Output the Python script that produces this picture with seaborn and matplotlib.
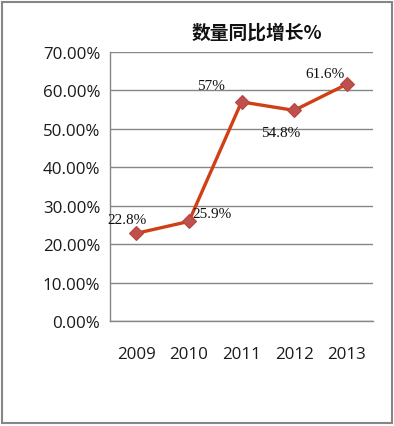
import pandas as pd
import matplotlib.pyplot as plt
import matplotlib.ticker as mticker
from matplotlib.patches import Rectangle
import seaborn as sns

years = ['2009', '2010', '2011', '2012', '2013']
growth = [22.8, 25.9, 57.0, 54.8, 61.6]
point_labels = ['22.8%', '25.9%', '57%', '54.8%', '61.6%']
y_ticks = [0, 10, 20, 30, 40, 50, 60, 70]

df = pd.DataFrame({'year': years, 'growth': growth})

sns.set_theme(style='white')
plt.rcParams['font.family'] = ['Open Sans', 'DejaVu Sans']

fig = plt.figure(figsize=(3.94, 4.27), dpi=100)
ax = fig.add_axes([0.279, 0.246, 0.668, 0.630])

sns.lineplot(data=df, x='year', y='growth', ax=ax, color='#D23F14', linewidth=2.4,
             marker='D', markersize=7.5, markerfacecolor='#C0504D',
             markeredgecolor='#B5453F', markeredgewidth=0.8, sort=False)

ax.set_xlim(-0.5, len(years) - 0.5)
ax.set_ylim(0, 70)
ax.set_yticks(y_ticks)
ax.yaxis.set_major_formatter(mticker.FuncFormatter(lambda v, p: f'{v:.2f}%'))
ax.set_xticks(range(len(years)))
ax.set_xticklabels(years)
ax.set_xticks([i - 0.5 for i in range(len(years) + 1)], minor=True)
ax.tick_params(axis='x', which='major', length=0, pad=18, labelsize=12.2, colors='#1a1a1a')
ax.tick_params(axis='x', which='minor', length=4, width=1, color='#868686', direction='out')
ax.tick_params(axis='y', which='major', length=4, width=1, color='#868686',
               direction='out', labelsize=12.2, labelcolor='#1a1a1a', pad=3)
ax.yaxis.grid(True, color='#868686', linewidth=1)
ax.set_axisbelow(True)
for s in ['top', 'right']:
    ax.spines[s].set_visible(False)
for s in ['left', 'bottom']:
    ax.spines[s].set_color('#868686')
    ax.spines[s].set_linewidth(1)
ax.set_xlabel('')
ax.set_ylabel('')

# data label offsets (points)
offsets = [(-7, 10), (17, 6), (-22, 12), (-10, -16), (-16, 8)]
for i, (lab, off) in enumerate(zip(point_labels, offsets)):
    ax.annotate(lab, (i, growth[i]), xytext=off, textcoords='offset points',
                ha='center', va='center', fontsize=11,
                family=['Liberation Serif', 'DejaVu Serif'], color='#111111')

fig.text(0.652, 0.923, '数量同比增长%', ha='center', va='center', fontsize=13.5,
         fontweight='bold', family=['Noto Sans CJK SC', 'DejaVu Sans'], color='#111111')

fig.patches.append(Rectangle((0.006, 0.006), 0.988, 0.988, transform=fig.transFigure,
                             fill=False, edgecolor='#868686', linewidth=1.5))

fig.savefig('out.png', dpi=100)
